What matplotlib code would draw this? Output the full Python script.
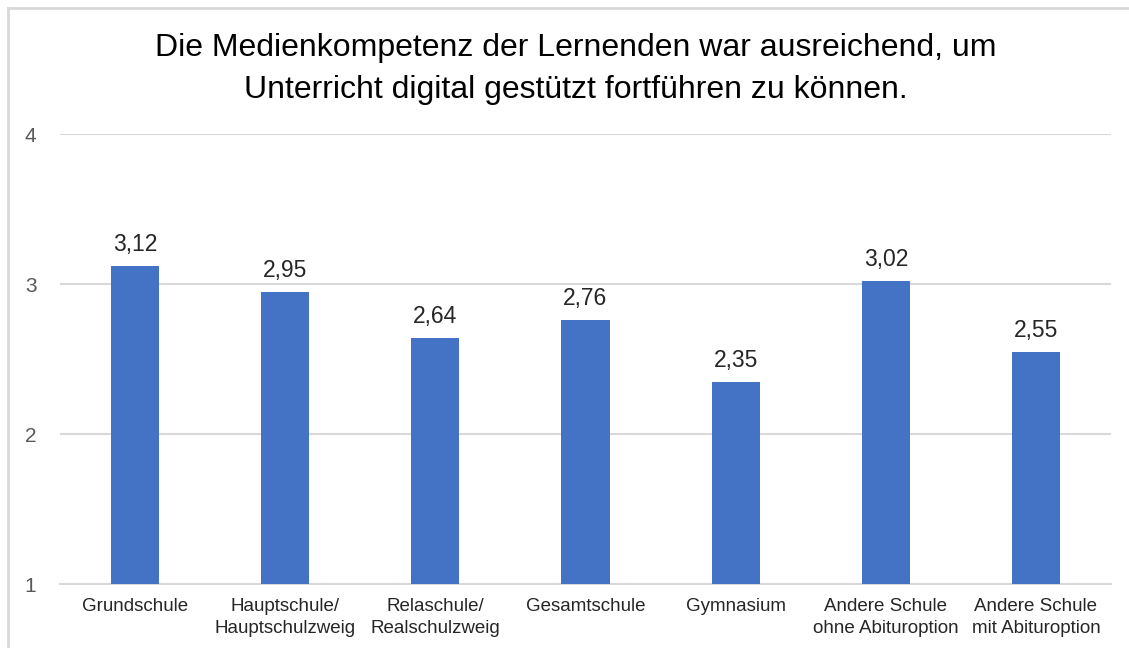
import matplotlib.pyplot as plt
from matplotlib.lines import Line2D

plt.rcParams['font.family'] = ['Liberation Sans', 'DejaVu Sans']

schools = ["Grundschule", "Hauptschule/\nHauptschulzweig", "Relaschule/\nRealschulzweig",
           "Gesamtschule", "Gymnasium", "Andere Schule\nohne Abituroption",
           "Andere Schule\nmit Abituroption"]
scores = [3.12, 2.95, 2.64, 2.76, 2.35, 3.02, 2.55]
y_ticks = [1, 2, 3, 4]

W, H = 1129, 648
fig = plt.figure(figsize=(W / 100, H / 100), dpi=100)
ax = fig.add_axes([60 / W, 64 / H, 1051 / W, 450 / H])

x = range(len(schools))
base = 1
ax.bar(x, [s - base for s in scores], bottom=base, width=0.32, color="#4472C4", zorder=3)
for i, s in zip(x, scores):
    ax.annotate(f"{s:.2f}".replace(".", ","), (i, s), xytext=(0, 7), textcoords="offset points",
                ha="center", va="bottom", fontsize=16.5, color="#262626")

ax.set_xlim(-0.5, len(schools) - 0.5)
ax.set_ylim(1, 4)
ax.set_yticks(y_ticks)
ax.set_xticks(list(x))
ax.set_xticklabels(schools, fontsize=13.5, color="#262626", linespacing=1.38)
ax.tick_params(axis="y", labelsize=15, labelcolor="#595959", length=0, pad=17)
ax.tick_params(axis="x", length=0, pad=10)
ax.grid(axis="y", color="#D9D9D9", linewidth=1.5, zorder=0)
for side in ["top", "right", "left"]:
    ax.spines[side].set_visible(False)
ax.spines["bottom"].set_color("#D9D9D9")
ax.spines["bottom"].set_linewidth(1.5)

fig.text(576 / W, 1 - 69 / H, "Die Medienkompetenz der Lernenden war ausreichend, um\nUnterricht digital gestützt fortführen zu können.",
         ha="center", va="center", fontsize=23, color="#000000", linespacing=1.48)

# chart border (cut off on right and bottom)
fig.add_artist(Line2D([8 / W, 1], [1 - 8 / H, 1 - 8 / H], color="#D9D9D9", linewidth=2, transform=fig.transFigure))
fig.add_artist(Line2D([8 / W, 8 / W], [0, 1 - 8 / H], color="#D9D9D9", linewidth=2, transform=fig.transFigure))

fig.savefig("out.png", dpi=100, facecolor="white")
